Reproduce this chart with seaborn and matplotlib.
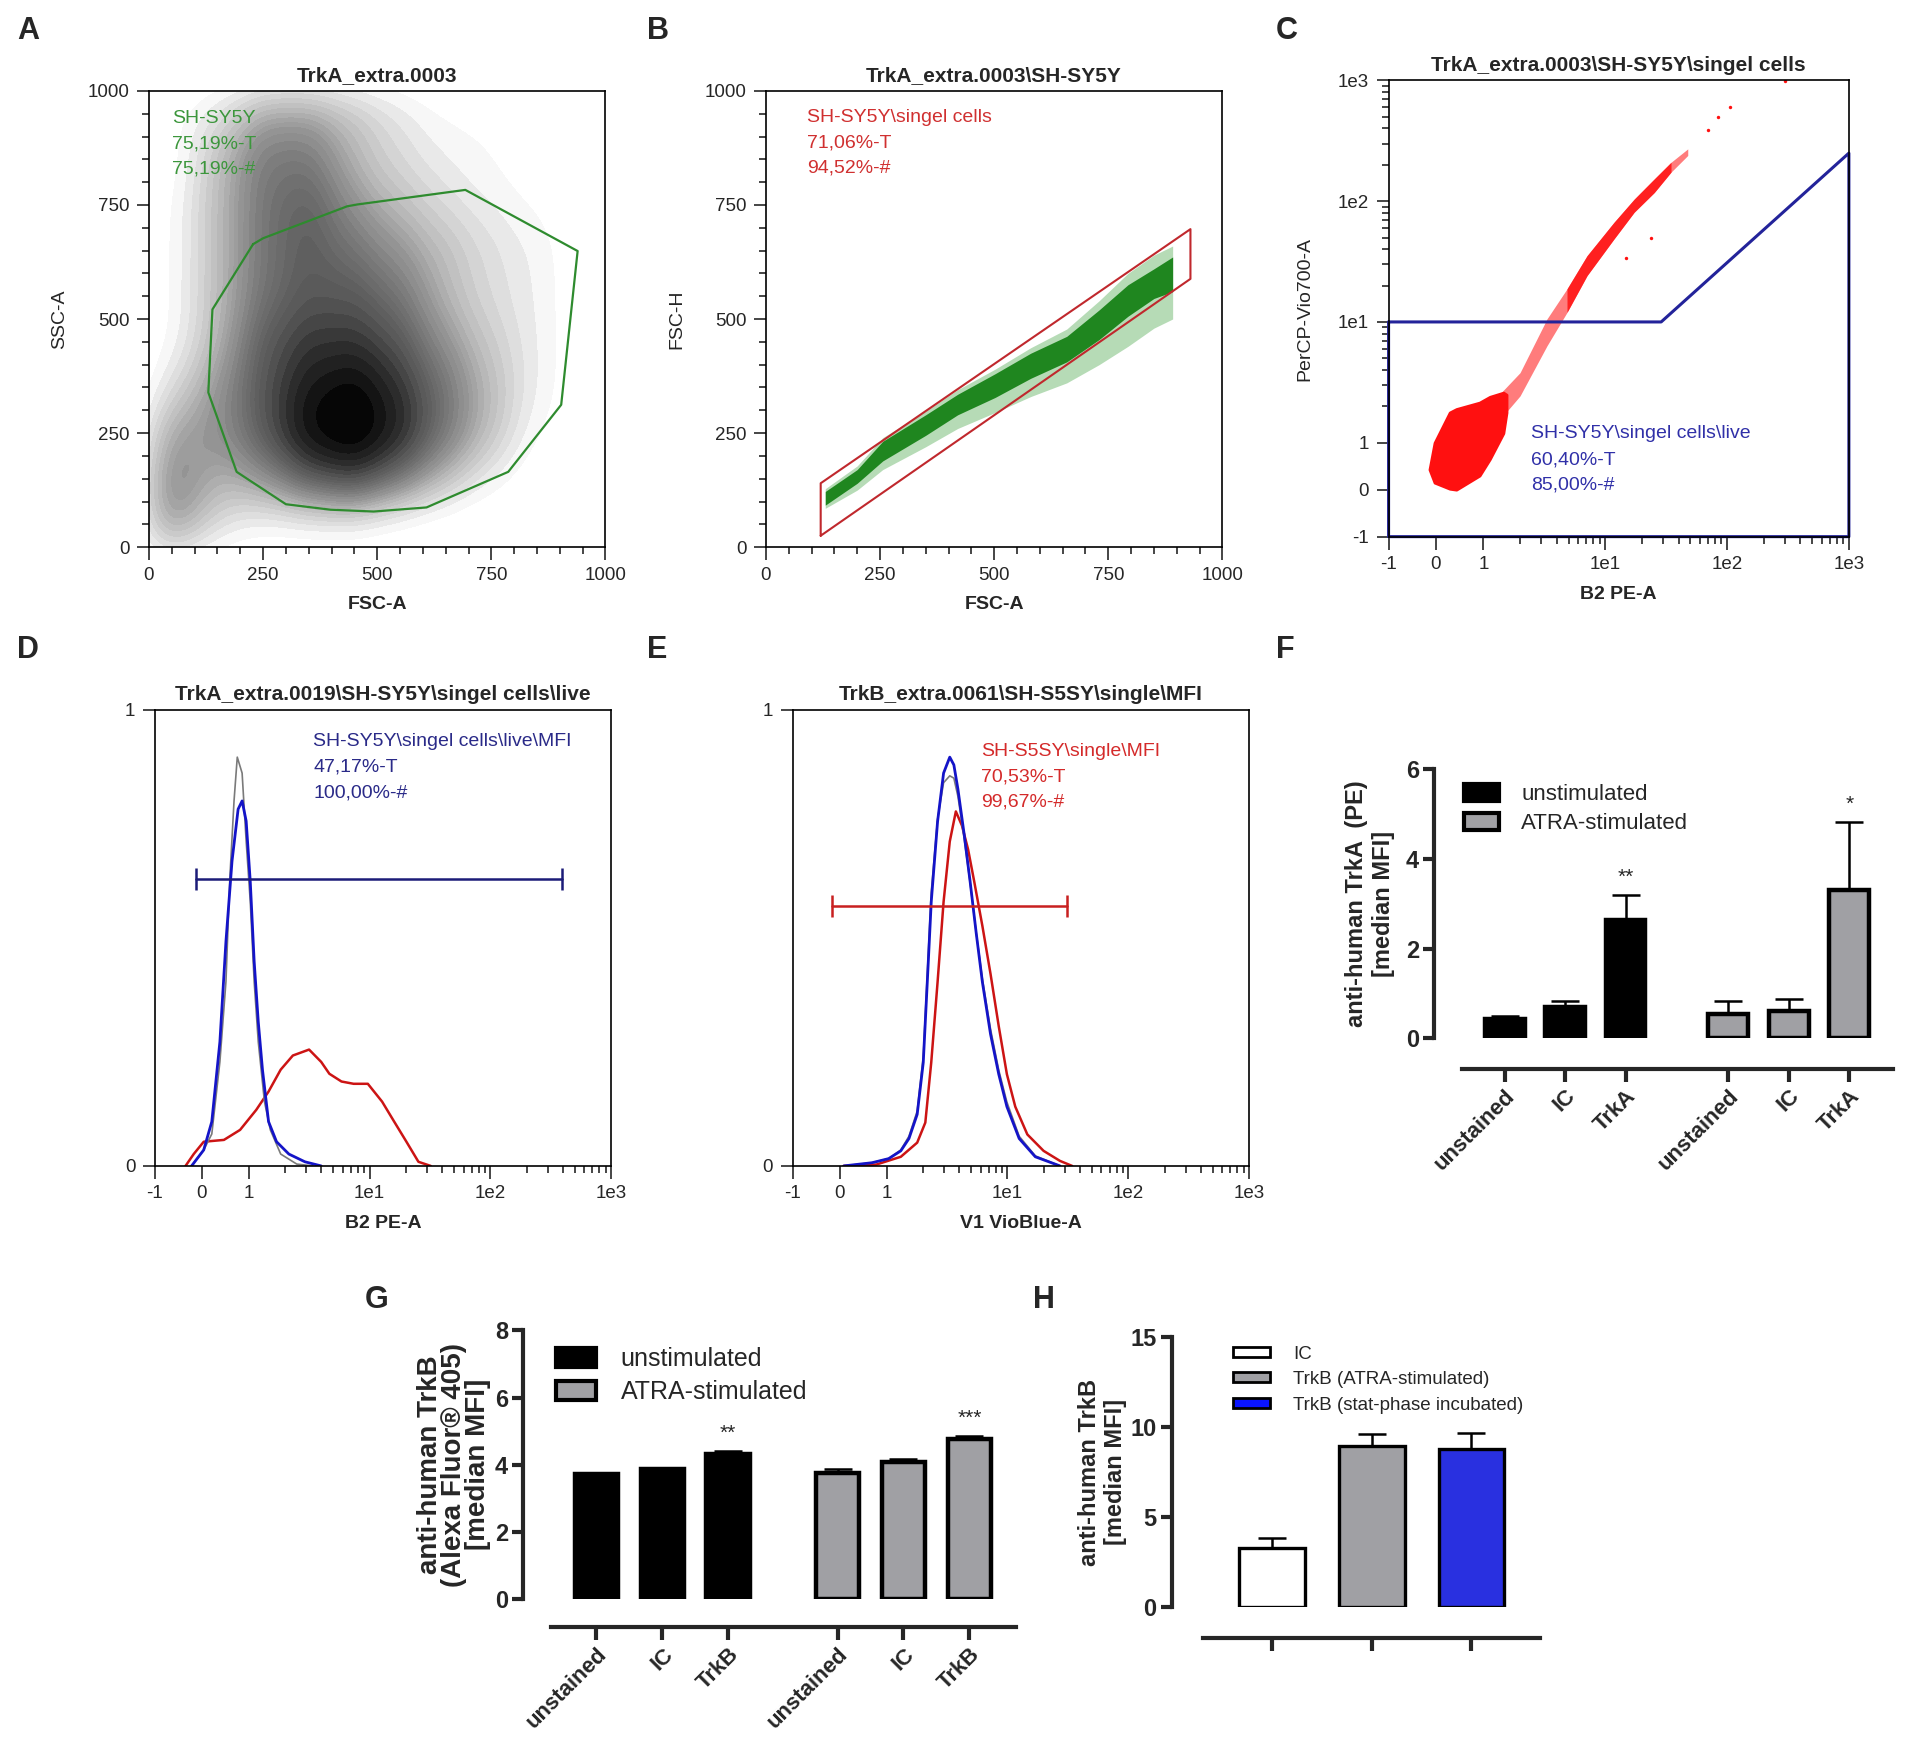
import numpy as np
import pandas as pd
import matplotlib.pyplot as plt
import matplotlib.colors as mcolors
import seaborn as sns
from matplotlib.patches import Patch
from matplotlib.ticker import MultipleLocator

sns.set_style("ticks")
plt.rcParams['font.family'] = ['Liberation Sans', 'DejaVu Sans']

# ---------------- DATA ----------------
# A: event density on a coarse grid (FSC-A x SSC-A)
a_fsc = [50, 150, 250, 350, 450, 550, 650, 750, 850, 950]
a_ssc = [50, 150, 250, 350, 450, 550, 650, 750, 850, 950]
a_density = [
    [5, 2, 1, 1, 1, 0.5, 0.3, 0, 0, 0],
    [5, 3, 4, 6, 7, 5, 3, 1.5, 0.5, 0],
    [4, 4, 6, 9, 10, 8, 5, 3, 1, 0.5],
    [2, 4, 6, 8, 9, 7, 5, 3, 1.5, 0.5],
    [1, 3, 6, 7, 7, 6, 4, 2.5, 1.5, 0.5],
    [1, 3, 5, 6, 6, 5, 3, 2, 1.5, 0.5],
    [1, 3, 5, 6, 5, 4, 3, 2, 1.5, 0.5],
    [1, 3, 5, 6, 4, 3, 2, 1.5, 1, 0.5],
    [0.5, 3, 5, 5, 3, 2, 1.5, 1, 0.5, 0.5],
    [1, 2, 4, 4, 3, 2, 1, 1, 1, 1],
]
a_gate_fsc = [228, 250, 434, 456, 693, 939, 903, 787, 608, 492, 398, 300, 192, 130, 139, 228]
a_gate_ssc = [664, 677, 747, 751, 783, 649, 312, 165, 87, 78, 82, 94, 165, 339, 521, 664]

# B: singlet band (FSC-A vs FSC-H), dense core and sparse halo edges
b_fsc = [130, 200, 256, 350, 420, 502, 580, 659, 730, 793, 850, 891]
b_core_lo = [92, 140, 189, 245, 290, 328, 370, 406, 455, 506, 545, 560]
b_core_hi = [122, 170, 232, 290, 335, 380, 425, 462, 520, 575, 610, 636]
b_halo_lo = [85, 125, 170, 220, 260, 295, 330, 360, 400, 440, 480, 500]
b_halo_hi = [128, 178, 240, 298, 345, 390, 437, 478, 540, 600, 640, 660]
b_gate_fsc = [120, 120, 930, 930, 120]
b_gate_fsch = [25, 140, 697, 588, 25]

# C: live/dead (B2 PE-A vs PerCP-Vio700-A)
c_blob_pe = [-0.137, -0.03, 0.29, 0.43, 0.92, 1.13, 1.46, 1.55]
c_blob_lo = [0.43, 0.15, 0.02, 0.0, 0.3, 0.65, 1.2, 1.78]
c_blob_hi = [0.43, 1.0, 1.78, 1.9, 2.15, 2.4, 2.6, 2.5]
c_streak_pe = [1.4, 2.0, 3.33, 4.86, 7.1, 11.8, 17.3, 25.3, 34.7, 47.6]
c_streak_lo = [1.6, 2.44, 6.35, 12.0, 24.2, 48.6, 81, 118, 174, 239]
c_streak_hi = [2.6, 3.8, 10.6, 18.8, 35.4, 66.8, 104, 153, 210, 271]
c_dot_pe = [105, 84, 70, 300, 23.7, 14.7]
c_dot_percp = [601, 497, 385, 995, 50, 34]
c_gate_pe = [-1, 28.8, 1000, 1000, -1, -1]
c_gate_percp = [10, 10, 250, -1, -1, 10]

# D: TrkA histograms (B2 PE-A)
d_gray_x = [-0.215, 0.043, 0.215, 0.387, 0.516, 0.60, 0.688, 0.757, 0.86, 0.946, 1.03, 1.11, 1.2, 1.35, 1.51, 1.84, 2.5, 3.41]
d_gray_y = [0, 0.035, 0.07, 0.228, 0.404, 0.633, 0.8, 0.896, 0.861, 0.712, 0.58, 0.404, 0.272, 0.141, 0.079, 0.026, 0.004, 0]
d_blue_x = [-0.215, 0.043, 0.215, 0.387, 0.516, 0.645, 0.775, 0.86, 0.946, 1.03, 1.11, 1.2, 1.3, 1.46, 1.7, 2.15, 2.92, 3.98]
d_blue_y = [0, 0.035, 0.097, 0.272, 0.492, 0.668, 0.782, 0.8, 0.756, 0.624, 0.448, 0.316, 0.211, 0.097, 0.053, 0.026, 0.009, 0]
d_red_x = [-0.344, -0.17, 0.043, 0.473, 0.817, 1.156, 1.46, 1.84, 2.32, 3.16, 3.98, 4.65, 5.86, 7.38, 9.68, 12.7, 16.0, 20.2, 25.4, 32.1]
d_red_y = [0, 0.026, 0.053, 0.057, 0.079, 0.123, 0.163, 0.211, 0.242, 0.255, 0.228, 0.202, 0.185, 0.18, 0.18, 0.141, 0.097, 0.053, 0.009, 0]
d_gate_x = [-0.112, 395]
d_gate_y = 0.628

# E: TrkB histograms (V1 VioBlue-A)
e_x = [0.087, 0.69, 1.04, 1.31, 1.53, 1.79, 2.01, 2.17, 2.34, 2.64, 2.96, 3.33, 3.6, 3.89, 4.37, 4.91, 5.52, 6.2, 7.24, 8.47, 9.89, 12.5, 17.0, 27.2]
e_blue_y = [0, 0.007, 0.016, 0.033, 0.06, 0.113, 0.227, 0.403, 0.579, 0.755, 0.861, 0.896, 0.879, 0.826, 0.729, 0.623, 0.509, 0.403, 0.289, 0.201, 0.13, 0.06, 0.02, 0]
e_gray_y = [0, 0.007, 0.016, 0.035, 0.065, 0.12, 0.24, 0.42, 0.6, 0.76, 0.84, 0.855, 0.85, 0.81, 0.72, 0.62, 0.51, 0.41, 0.30, 0.21, 0.14, 0.065, 0.022, 0]
e_red_x = [0.087, 0.78, 1.31, 1.79, 2.09, 2.34, 2.64, 2.96, 3.33, 3.74, 4.2, 4.72, 5.31, 6.2, 7.24, 8.47, 9.89, 11.6, 14.6, 19.9, 27.2, 34.3]
e_red_y = [0, 0.003, 0.02, 0.051, 0.095, 0.227, 0.403, 0.579, 0.711, 0.777, 0.746, 0.694, 0.623, 0.526, 0.421, 0.306, 0.201, 0.13, 0.069, 0.033, 0.011, 0]
e_gate_x = [-0.173, 31.3]
e_gate_y = 0.569

# F: TrkA median MFI
f_pos = [0, 1, 2, 3.7, 4.7, 5.7]
f_labels = ["unstained", "IC", "TrkA", "unstained", "IC", "TrkA"]
f_group = ["unstimulated"] * 3 + ["ATRA-stimulated"] * 3
f_mean = [0.42, 0.69, 2.63, 0.55, 0.61, 3.31]
f_err = [0.07, 0.14, 0.57, 0.28, 0.27, 1.51]
f_stars = {2: "**", 5: "*"}

# G: TrkB median MFI
g_pos = [0, 1, 2, 3.66, 4.66, 5.66]
g_labels = ["unstained", "IC", "TrkB", "unstained", "IC", "TrkB"]
g_group = ["unstimulated"] * 3 + ["ATRA-stimulated"] * 3
g_mean = [3.73, 3.89, 4.31, 3.77, 4.07, 4.77]
g_err = [0.02, 0.03, 0.10, 0.12, 0.10, 0.09]
g_stars = {2: "**", 5: "***"}

# H: TrkB, ATRA vs stationary phase
h_pos = [0, 1, 2]
h_group = ["IC", "TrkB (ATRA-stimulated)", "TrkB (stat-phase incubated)"]
h_mean = [3.3, 8.95, 8.77]
h_err = [0.57, 0.65, 0.88]

GRAY = "#a0a0a4"
BLUE = "#0a14ff"
# dot plots saturate quickly, so darken the grey ramp
DOTS = mcolors.ListedColormap(plt.cm.Greys(np.linspace(0, 1, 256) ** 0.7))

biex_ticks = [-1, 0, 1, 10, 100, 1000]
biex_labels = ["-1", "0", "1", "1e1", "1e2", "1e3"]
biex_minor = [m * d for d in (1, 10, 100) for m in range(2, 10)]

fig = plt.figure(figsize=(19.1, 17.48), dpi=100)


def facs_axes(rect, title):
    ax = fig.add_axes(rect)
    for s in ax.spines.values():
        s.set_visible(True)
        s.set_color("black")
        s.set_linewidth(1.2)
    ax.tick_params(which="major", direction="out", length=9, width=1.2, labelsize=13.5, pad=5)
    ax.tick_params(which="minor", direction="out", length=5, width=1.2)
    ax.set_title(title, fontsize=15, fontweight="bold", pad=7)
    return ax


def biex(ax, which):
    if which == "x":
        ax.set_xscale("symlog", linthresh=1, linscale=0.35)
        ax.set_xlim(-1, 1000)
        ax.set_xticks(biex_ticks, biex_labels)
        ax.set_xticks(biex_minor, minor=True)
    else:
        ax.set_yscale("symlog", linthresh=1, linscale=0.35)
        ax.set_ylim(-1, 1000)
        ax.set_yticks(biex_ticks, biex_labels)
        ax.set_yticks(biex_minor, minor=True)


def gate_text(ax, lines, x, y0, color):
    for i, t in enumerate(lines):
        ax.text(x, y0 - i * 0.056, t, transform=ax.transAxes, color=color,
                fontsize=14, va="center", ha="left")


def linear_axes(ax):
    ax.set_xlim(0, 1000)
    ax.set_ylim(0, 1000)
    ax.xaxis.set_major_locator(MultipleLocator(250))
    ax.xaxis.set_minor_locator(MultipleLocator(50))
    ax.yaxis.set_major_locator(MultipleLocator(250))
    ax.yaxis.set_minor_locator(MultipleLocator(50))


def facs_labels(ax, xlab, ylab=None, ypad=14):
    ax.set_xlabel(xlab, fontsize=14, fontweight="bold", labelpad=9)
    if ylab:
        ax.set_ylabel(ylab, fontsize=14, labelpad=ypad)


# ---------------- A ----------------
ax = facs_axes([0.078, 0.687, 0.239, 0.261], "TrkA_extra.0003")
gx, gy = np.meshgrid(a_fsc, a_ssc)
sns.kdeplot(x=gx.ravel(), y=gy.ravel(), weights=np.array(a_density).ravel(),
            fill=True, cmap=DOTS, levels=28, thresh=0.05, bw_adjust=0.55,
            clip=((0, 1000), (0, 1000)), ax=ax)
ax.plot(a_gate_fsc, a_gate_ssc, color="#2e8b2e", lw=1.6)
linear_axes(ax)
facs_labels(ax, "FSC-A", "SSC-A")
gate_text(ax, ["SH-SY5Y", "75,19%-T", "75,19%-#"], 0.05, 0.94, "#3c963c")

# ---------------- B ----------------
ax = facs_axes([0.401, 0.687, 0.239, 0.261], r"TrkA_extra.0003\SH-SY5Y")
ax.fill_between(b_fsc, b_halo_lo, b_halo_hi, color="#2e9a2e", alpha=0.35, lw=0)
ax.fill_between(b_fsc, b_core_lo, b_core_hi, color="#1f861f", lw=0)
ax.plot(b_gate_fsc, b_gate_fsch, color="#c0282d", lw=1.5)
linear_axes(ax)
facs_labels(ax, "FSC-A", "FSC-H")
gate_text(ax, [r"SH-SY5Y\singel cells", "71,06%-T", "94,52%-#"], 0.091, 0.942, "#d03030")

# ---------------- C ----------------
ax = facs_axes([0.727, 0.693, 0.241, 0.261], r"TrkA_extra.0003\SH-SY5Y\singel cells")
biex(ax, "x")
biex(ax, "y")
ax.fill_between(c_streak_pe, c_streak_lo, c_streak_hi, color="#ff1010", alpha=0.55, lw=0)
ax.fill_between(c_streak_pe[3:9], c_streak_lo[3:9], c_streak_hi[3:9], color="#ff1010", alpha=0.85, lw=0)
ax.fill_between(c_blob_pe, c_blob_lo, c_blob_hi, color="#ff1010", lw=2.0, edgecolor="#ff1010")
sns.scatterplot(x=c_dot_pe, y=c_dot_percp, color="#ff1010", s=6, linewidth=0, ax=ax)
ax.plot(c_gate_pe, c_gate_percp, color="#23239a", lw=2.2, clip_on=False)
ax.set_xlim(-1, 1000)
ax.set_ylim(-1, 1000)
facs_labels(ax, "B2 PE-A", "PerCP-Vio700-A", ypad=18)
gate_text(ax, [r"SH-SY5Y\singel cells\live", "60,40%-T", "85,00%-#"], 0.31, 0.225, "#3030a8")

# ---------------- D ----------------
ax = facs_axes([0.081, 0.333, 0.239, 0.261], r"TrkA_extra.0019\SH-SY5Y\singel cells\live")
biex(ax, "x")
sns.lineplot(x=d_red_x, y=d_red_y, color="#cc1414", lw=1.8, estimator=None, ax=ax)
sns.lineplot(x=d_gray_x, y=d_gray_y, color="#7a7a7a", lw=1.2, estimator=None, ax=ax)
sns.lineplot(x=d_blue_x, y=d_blue_y, color="#1414c8", lw=2.0, estimator=None, ax=ax)
ax.plot(d_gate_x, [d_gate_y] * 2, color="#1c1c78", lw=1.8, marker="|", ms=16, mew=1.8)
ax.set_ylim(0, 1)
ax.set_yticks([0, 1])
facs_labels(ax, "B2 PE-A")
gate_text(ax, [r"SH-SY5Y\singel cells\live\MFI", "47,17%-T", "100,00%-#"], 0.347, 0.93, "#2a2a88")

# ---------------- E ----------------
ax = facs_axes([0.415, 0.333, 0.239, 0.261], r"TrkB_extra.0061\SH-S5SY\single\MFI")
biex(ax, "x")
sns.lineplot(x=e_red_x, y=e_red_y, color="#cc1414", lw=1.8, estimator=None, ax=ax)
sns.lineplot(x=e_x, y=e_gray_y, color="#7a7a7a", lw=1.2, estimator=None, ax=ax)
sns.lineplot(x=e_x, y=e_blue_y, color="#1414c8", lw=2.0, estimator=None, ax=ax)
ax.plot(e_gate_x, [e_gate_y] * 2, color="#c82020", lw=1.8, marker="|", ms=16, mew=1.8)
ax.set_ylim(0, 1)
ax.set_yticks([0, 1])
facs_labels(ax, "V1 VioBlue-A")
gate_text(ax, [r"SH-S5SY\single\MFI", "70,53%-T", "99,67%-#"], 0.413, 0.909, "#d42a2a")


# ---------------- bar charts ----------------
def bar_axes(rect, xlim, ylim, yticks, spine_lo, offset):
    ax = fig.add_axes(rect)
    sns.despine(ax=ax)
    ax.set_xlim(*xlim)
    ax.set_ylim(*ylim)
    ax.set_yticks(yticks)
    ax.spines["left"].set_linewidth(3)
    ax.spines["left"].set_bounds(ylim[0], ylim[1])
    ax.spines["bottom"].set_linewidth(3)
    ax.spines["bottom"].set_position(("outward", offset))
    ax.spines["bottom"].set_bounds(spine_lo, xlim[1])
    ax.tick_params(axis="y", direction="out", length=8, width=3, labelsize=17, pad=3)
    ax.tick_params(axis="x", direction="out", length=9, width=3, labelsize=16, pad=3)
    for t in ax.get_yticklabels():
        t.set_fontweight("bold")
    return ax


def draw_bars(ax, pos, mean, err, group, palette, lw):
    df = pd.DataFrame({"pos": pos, "val": mean, "group": group})
    sns.barplot(data=df, x="pos", y="val", hue="group", palette=palette, native_scale=True,
                dodge=False, width=0.66, edgecolor="black", linewidth=lw, legend=False, ax=ax)
    ax.errorbar(pos, mean, yerr=[np.zeros(len(err)), err], fmt="none", ecolor="black",
                elinewidth=1.8, capsize=10, capthick=1.8, zorder=5)
    ax.set_xlabel("")


def stars(ax, pos, mean, err, marks):
    for i, s in marks.items():
        ax.annotate(s, (pos[i], mean[i] + err[i]), xytext=(0, 6), textcoords="offset points",
                    ha="center", va="bottom", fontsize=15)


def group_legend(ax, size):
    ax.legend(handles=[Patch(facecolor="black", edgecolor="black", lw=3, label="unstimulated"),
                       Patch(facecolor=GRAY, edgecolor="black", lw=3, label="ATRA-stimulated")],
              loc="upper left", bbox_to_anchor=(0.02, 1.02), frameon=False, fontsize=size,
              handlelength=1.6, handleheight=0.8, labelspacing=0.35, handletextpad=1.0)


# F
ax = bar_axes([0.751, 0.406, 0.240, 0.154], (-1.16, 6.42), (0, 6), [0, 2, 4, 6], -0.7, 22)
draw_bars(ax, f_pos, f_mean, f_err, f_group, {"unstimulated": "black", "ATRA-stimulated": GRAY}, 3.2)
stars(ax, f_pos, f_mean, f_err, f_stars)
ax.set_xticks(f_pos, f_labels, rotation=45, ha="right", rotation_mode="anchor", fontweight="bold")
ax.set_ylim(0, 6)
ax.set_ylabel("anti-human TrkA  (PE)\n[median MFI]", fontsize=17, fontweight="bold", labelpad=8)
group_legend(ax, 16)

# G
ax = bar_axes([0.274, 0.085, 0.258, 0.154], (-1.11, 6.37), (0, 8), [0, 2, 4, 6, 8], -0.69, 20)
draw_bars(ax, g_pos, g_mean, g_err, g_group, {"unstimulated": "black", "ATRA-stimulated": GRAY}, 3.2)
stars(ax, g_pos, g_mean, g_err, g_stars)
ax.set_xticks(g_pos, g_labels, rotation=45, ha="right", rotation_mode="anchor", fontweight="bold")
ax.set_ylim(0, 8)
ax.set_ylabel("anti-human TrkB\n(Alexa Fluor\u00ae 405)\n[median MFI]", fontsize=20,
              fontweight="bold", labelpad=3, linespacing=0.9)
group_legend(ax, 18)

# H
ax = bar_axes([0.6135, 0.0805, 0.193, 0.1547], (-1.0, 2.69), (0, 15), [0, 5, 10, 15], -0.69, 22)
draw_bars(ax, h_pos, h_mean, h_err, h_group,
          {h_group[0]: "white", h_group[1]: GRAY, h_group[2]: BLUE}, 2.4)
ax.set_xticks(h_pos, ["", "", ""])
ax.set_ylim(0, 15)
ax.set_ylabel("anti-human TrkB\n[median MFI]", fontsize=17, fontweight="bold", labelpad=2)
ax.legend(handles=[Patch(facecolor=c, edgecolor="black", lw=2, label=l)
                   for c, l in zip(["white", GRAY, BLUE], h_group)],
          loc="upper left", bbox_to_anchor=(0.12, 1.03), frameon=False, fontsize=13.5,
          handlelength=2.0, handleheight=0.45, labelspacing=0.45, handletextpad=1.2)

# ---------------- panel letters ----------------
for letter, (x, y) in {"A": (0.009, 0.991), "B": (0.339, 0.991), "C": (0.668, 0.991),
                       "D": (0.009, 0.637), "E": (0.339, 0.637), "F": (0.668, 0.637),
                       "G": (0.191, 0.265), "H": (0.541, 0.265)}.items():
    fig.text(x, y, letter, fontsize=22, fontweight="bold", ha="left", va="top")

fig.savefig("out.png", dpi=100)
